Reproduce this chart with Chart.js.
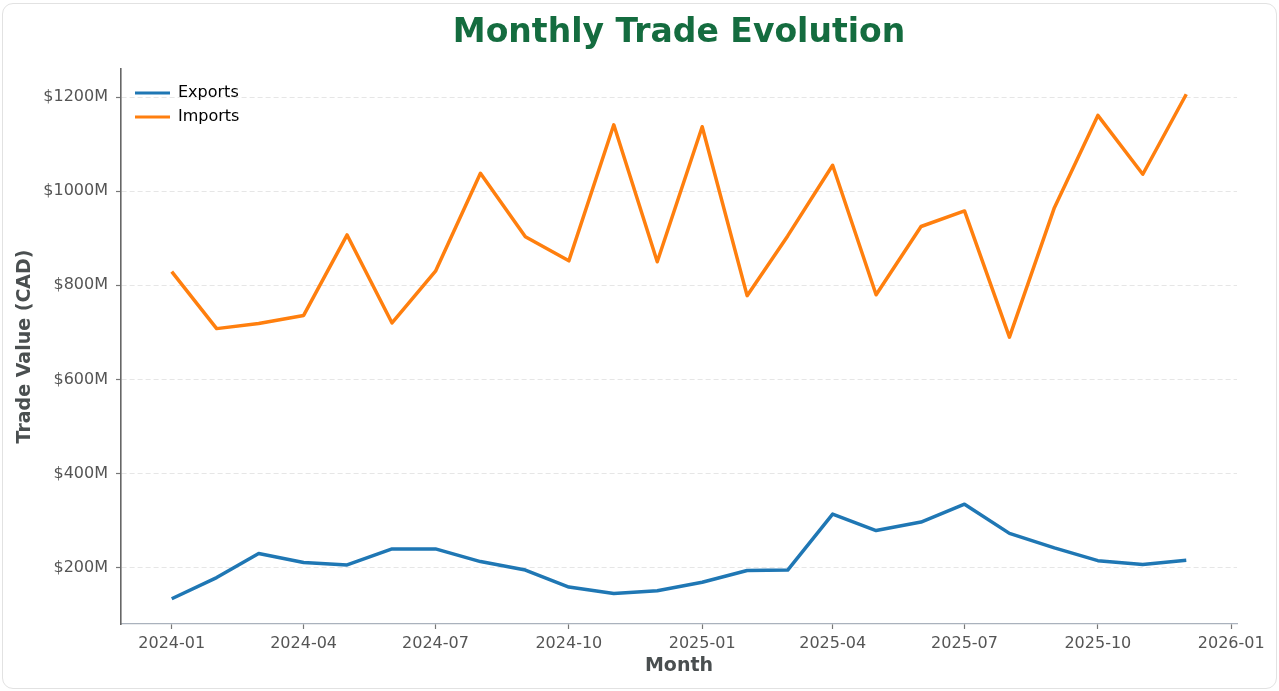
<!DOCTYPE html>
<html>
<head>
<meta charset="utf-8">
<title>Monthly Trade Evolution</title>
<script src="https://cdn.jsdelivr.net/npm/chart.js@4.4.1/dist/chart.umd.min.js"></script>
<style>
    html, body { margin: 0; padding: 0; background: #fff; }
    body { width: 1279px; height: 691px; position: relative; overflow: hidden; }
    .card {
        position: absolute; left: 2px; top: 3px; width: 1275px; height: 686px;
        box-sizing: border-box; border: 1.5px solid #e2e2e2; border-radius: 11px;
    }
    #tradeChart { position: absolute; left: 0; top: 0; }
</style>
</head>
<body>
<div class="card"></div>
<canvas id="tradeChart" width="1279" height="691"></canvas>
<script>
// Chart data (values in millions CAD)
const MONTHS = [
    '2024-01', '2024-02', '2024-03', '2024-04', '2024-05', '2024-06',
    '2024-07', '2024-08', '2024-09', '2024-10', '2024-11', '2024-12',
    '2025-01', '2025-02', '2025-03', '2025-04', '2025-05', '2025-06',
    '2025-07', '2025-08', '2025-09', '2025-10', '2025-11', '2025-12'
];
const EXPORTS = [
    134, 179, 230, 211, 206, 240, 240, 213, 195, 159, 145, 151,
    169, 194, 195, 314, 279, 297, 335, 273, 242, 215, 207, 216
];
const IMPORTS = [
    829, 708, 719, 736, 907, 720, 830, 1038, 903, 852, 1141, 850,
    1137, 778, 905, 1055, 780, 925, 958, 690, 965, 1161, 1036, 1206
];
const X_TICK_LABELS = ['2024-01', '2024-04', '2024-07', '2024-10', '2025-01', '2025-04', '2025-07', '2025-10', '2026-01'];
const Y_TICKS = [200, 400, 600, 800, 1000, 1200];

const FONT = '"DejaVu Sans", Verdana, sans-serif';

// "YYYY-MM" -> timestamp
function monthToTime(label) {
    const parts = label.split('-');
    return Date.UTC(+parts[0], +parts[1] - 1, 1);
}

function timeToLabel(t) {
    const d = new Date(t);
    return d.getUTCFullYear() + '-' + String(d.getUTCMonth() + 1).padStart(2, '0');
}

const xValues = MONTHS.map(monthToTime);
const allValues = EXPORTS.concat(IMPORTS);

// 5% margins around the data, like the original plot
const xSpan = xValues[xValues.length - 1] - xValues[0];
const xMin = xValues[0] - xSpan * 0.05;
const xMax = xValues[xValues.length - 1] + xSpan * 0.05;
const yLow = Math.min(...allValues);
const yHigh = Math.max(...allValues);
const yMin = yLow - (yHigh - yLow) * 0.05;
const yMax = yHigh + (yHigh - yLow) * 0.05;

// Title centred over the plot area
const titlePlugin = {
    id: 'plotTitle',
    afterDraw(chart) {
        const { ctx, chartArea } = chart;
        ctx.save();
        ctx.font = 'bold 33px ' + FONT;
        ctx.fillStyle = '#146c3f';
        ctx.textAlign = 'center';
        ctx.textBaseline = 'alphabetic';
        ctx.fillText('Monthly Trade Evolution', (chartArea.left + chartArea.right) / 2, 42);
        ctx.restore();
    }
};

// Put the legend in the upper left corner of the plot
const legendOffset = {
    id: 'legendOffset',
    afterLayout(chart) {
        chart.legend.left = chart.chartArea.left + 6;
        chart.legend.top = chart.chartArea.top + 8;
    }
};

const ctx = document.getElementById('tradeChart').getContext('2d');

new Chart(ctx, {
    type: 'line',
    data: {
        datasets: [
            {
                label: 'Exports',
                data: xValues.map((x, i) => ({ x: x, y: EXPORTS[i] })),
                borderColor: '#1f77b4',
                backgroundColor: '#1f77b4',
                borderWidth: 3.5,
                pointRadius: 0,
                tension: 0,
                borderJoinStyle: 'round'
            },
            {
                label: 'Imports',
                data: xValues.map((x, i) => ({ x: x, y: IMPORTS[i] })),
                borderColor: '#ff7f0e',
                backgroundColor: '#ff7f0e',
                borderWidth: 3.5,
                pointRadius: 0,
                tension: 0,
                borderJoinStyle: 'round'
            }
        ]
    },
    options: {
        responsive: false,
        animation: false,
        devicePixelRatio: 1,
        layout: {
            padding: { top: 69, right: 42, bottom: 0, left: 0 }
        },
        plugins: {
            title: { display: false },
            tooltip: { enabled: false },
            legend: {
                position: 'chartArea',
                align: 'start',
                labels: {
                    boxWidth: 35,
                    boxHeight: 3,
                    padding: 8,
                    color: '#1a1a1a',
                    font: { family: FONT, size: 16 },
                    generateLabels(chart) {
                        return chart.data.datasets.map((ds, i) => ({
                            text: ds.label,
                            fillStyle: ds.borderColor,
                            strokeStyle: ds.borderColor,
                            lineWidth: 0,
                            hidden: false,
                            datasetIndex: i
                        }));
                    }
                }
            }
        },
        scales: {
            x: {
                type: 'linear',
                min: xMin,
                max: xMax,
                afterBuildTicks(axis) {
                    axis.ticks = X_TICK_LABELS.map(l => ({ value: monthToTime(l) }));
                },
                afterFit(scale) {
                    scale.height = 67;
                    scale.paddingLeft = 0;
                    scale.paddingRight = 0;
                },
                ticks: {
                    autoSkip: false,
                    maxRotation: 0,
                    padding: 5,
                    color: '#555555',
                    font: { family: FONT, size: 16 },
                    callback: (value) => timeToLabel(value)
                },
                grid: {
                    drawOnChartArea: false,
                    drawTicks: true,
                    tickLength: 5,
                    tickColor: '#777777',
                    tickWidth: 1.2
                },
                border: { display: true, color: '#aab2bd', width: 1.3 },
                title: {
                    display: true,
                    text: 'Month',
                    color: '#4a4f50',
                    font: { family: FONT, size: 19, weight: 'bold' },
                    padding: { top: 0, bottom: 14 }
                }
            },
            y: {
                min: yMin,
                max: yMax,
                afterBuildTicks(axis) {
                    axis.ticks = Y_TICKS.map(v => ({ value: v }));
                },
                afterFit(scale) {
                    scale.width = 121;
                    scale.paddingTop = 0;
                    scale.paddingBottom = 0;
                },
                ticks: {
                    padding: 8,
                    color: '#555555',
                    font: { family: FONT, size: 16 },
                    callback: (value) => '$' + value + 'M'
                },
                grid: {
                    color: '#e6e6e6',
                    lineWidth: 1,
                    drawTicks: true,
                    tickLength: 5,
                    tickColor: '#777777',
                    tickWidth: 1.2,
                    tickBorderDash: []
                },
                border: { display: true, color: '#666666', width: 1.6, dash: [5, 3] },
                title: {
                    display: true,
                    text: 'Trade Value (CAD)',
                    color: '#4a4f50',
                    font: { family: FONT, size: 19, weight: 'bold' },
                    padding: { top: 14, bottom: 0 }
                }
            }
        }
    },
    plugins: [titlePlugin, legendOffset]
});
</script>
</body>
</html>
